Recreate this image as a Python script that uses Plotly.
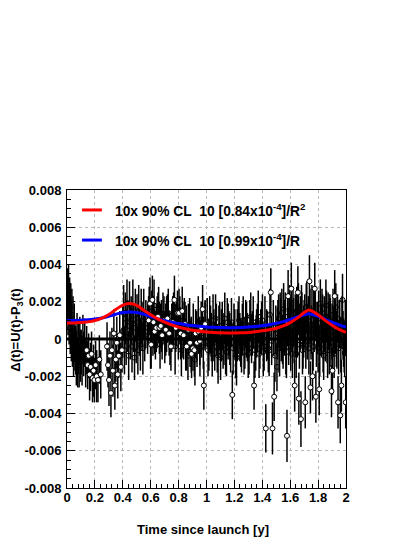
import plotly.graph_objects as go

# ---------------- data (values in units of 1e-3) ----------------
tA = [0.003,0.007,0.011,0.015,0.019,0.023,0.027,0.031,0.035,0.039,0.043,0.047,0.052,0.057]
vA = [2.3,1.6,2.6,1.2,2.0,0.6,1.7,0.3,1.3,-0.2,0.9,-0.7,0.4,-0.4]
eA = [1.5,1.4,1.4,1.5,1.3,1.4,1.3,1.5,1.4,1.3,1.4,1.3,1.5,1.3]

tB = [0.062,0.067,0.072,0.077,0.082,0.087,0.092,0.097,0.102,0.108,0.114,0.120,0.127,0.134]
vB = [-0.6,-1.1,0.2,-1.3,-0.5,-1.4,-0.1,-0.9,-0.7,-1.2,0.0,-0.8,-0.2,-1.3]
eB = [1.3,1.4,1.2,1.3,1.4,1.2,1.3,1.4,1.2,1.3,1.3,1.2,1.3,1.3]

tC = [0.141,0.148,0.155,0.162,0.169,0.176,0.183,0.190,0.197,0.205,0.213,0.222,0.232,0.242]
vC = [-0.6,-1.4,-0.9,-1.9,-1.5,-0.8,-2.1,-1.7,-2.2,-1.4,-2.0,-2.2,-1.1,-1.9]
eC = [1.3,1.3,1.2,1.4,1.3,1.2,1.3,1.4,1.2,1.3,1.4,1.2,1.3,1.3]

tD = [0.287,0.294,0.301,0.308,0.315,0.322,0.329,0.336,0.343,0.350,0.357,0.364,0.371,0.378,0.386,0.394]
vD = [-0.4,-1.4,-2.2,-0.9,-2.9,-0.6,-1.7,0.3,-2.5,-1.1,-0.2,-1.9,-0.9,0.2,-1.5,-0.6]
eD = [1.3,1.2,1.4,1.3,1.3,1.2,1.4,1.3,1.3,1.2,1.4,1.3,1.2,1.3,1.3,1.2]

tE = [0.400,0.406,0.412,0.418,0.424,0.430,0.436,0.442,0.448,0.454,0.460,0.466,0.472,0.478,
      0.484,0.490,0.496,0.502,0.508,0.514,0.520,0.526,0.532,0.538,0.544,0.550,0.557,0.565]
vE = [0.4,1.4,-0.6,1.1,0.1,1.9,0.7,-0.9,1.6,0.3,1.0,-0.4,1.7,0.6,
      -1.0,1.3,0.0,0.9,-0.6,1.5,0.4,-0.3,1.2,0.7,-0.5,1.4,0.2,0.8]
eE = [1.4,1.5,1.3,1.4,1.5,1.3,1.4,1.3,1.5,1.4,1.3,1.4,1.5,1.3,
      1.2,1.4,1.3,1.5,1.3,1.4,1.3,1.4,1.5,1.3,1.4,1.3,1.4,1.3]

tF = [0.585,0.595,0.603,0.612,0.620,0.628,0.640,0.652,0.662,0.672,0.682,0.695,0.708,0.720,
      0.732,0.745,0.758,0.770,0.780,0.792,0.803,0.815,0.826,0.836,0.846,0.858,0.870,0.882,
      0.893,0.903,0.913,0.922,0.932,0.942,0.952,0.962,0.972,0.981,0.990]
vF = [1.0,1.9,-0.3,2.1,0.9,0.4,0.6,1.2,0.6,0.7,0.2,1.0,0.5,1.1,
      0.3,-0.4,0.9,2.1,0.6,1.4,1.4,0.3,1.5,0.2,0.8,-0.4,0.5,-0.2,
      -0.8,-0.5,-0.6,0.3,-0.2,0.4,-0.1,0.6,1.6,-2.5,0.8]
eF = [1.3,1.4,1.3,1.3,1.4,1.2,1.3,1.3,1.4,1.2,1.3,1.3,1.4,1.3,
      1.2,1.3,1.4,1.3,1.3,1.2,1.3,1.4,1.3,1.3,1.2,1.3,1.4,1.3,
      1.3,1.2,1.4,1.3,1.3,1.2,1.3,1.4,1.3,1.3,1.3]

tF2 = [0.578,0.589,0.599,0.608,0.616,0.624,0.634,0.646,0.657,0.667,0.677,0.688,0.701,
       0.714,0.726,0.738,0.751,0.764,0.775,0.786,0.798,0.809,0.820,0.831,0.841,0.851]
vF2 = [0.6,1.5,-0.2,1.1,0.4,1.8,0.2,0.9,1.3,-0.3,0.7,1.2,0.1,
       0.8,1.4,0.0,0.6,1.1,-0.4,0.9,0.3,1.0,-0.6,0.5,0.9,-0.3]
eF2 = [1.4,1.3,1.4,1.5,1.3,1.4,1.3,1.4,1.5,1.3,1.4,1.3,1.4,
       1.5,1.3,1.4,1.3,1.4,1.5,1.3,1.4,1.3,1.4,1.5,1.3,1.4]

tG = [1.005,1.017,1.029,1.041,1.053,1.065,1.077,1.089,1.101,1.113,1.125,1.137,1.149,1.161,
      1.173,1.185,1.197,1.209,1.221,1.233,1.245,1.257,1.269,1.281,1.293,1.305,1.317,1.329,
      1.341,1.353,1.365,1.377,1.389,1.401,1.413,1.425,1.437,1.449,1.461,1.473,1.485,1.497]
vG = [0.9,-0.3,0.5,-0.8,0.2,1.1,-0.5,0.4,-1.0,0.7,0.0,-0.6,0.9,0.3,
      -0.4,-3.0,0.6,-0.9,0.2,1.0,-0.2,0.5,-0.7,0.8,0.1,-0.5,1.2,0.3,
      -2.5,-0.3,0.6,-0.8,0.4,1.0,-0.4,-4.8,0.2,-0.6,2.5,-4.8,-3.1,0.5]
eG = [1.3,1.4,1.3,1.2,1.4,1.3,1.3,1.4,1.2,1.3,1.4,1.3,1.3,1.2,
      1.4,1.3,1.3,1.2,1.4,1.3,1.3,1.4,1.2,1.3,1.3,1.4,1.3,1.2,
      1.3,1.4,1.3,1.3,1.2,1.4,1.3,1.3,1.3,1.4,1.3,1.4,1.3,1.3]

tG2 = [0.855,0.867,0.879,0.891,0.905,0.917,0.929,0.941,0.953,0.965,0.977,0.989,
       1.011,1.023,1.035,1.047,1.059,1.071,1.083,1.095,1.107,1.119,
       1.131,1.143,1.155,1.167,1.179,1.191,1.203,1.215,1.227,1.239,
       1.251,1.263,1.275,1.287,1.299,1.311,1.323,1.335,1.347,1.359,
       1.371,1.383,1.395,1.407,1.419,1.431,1.443,1.455,1.467,1.479,
       1.491]
vG2 = [0.4,-0.9,0.8,-0.3,0.6,-1.1,0.2,0.9,-0.5,0.3,-0.2,0.7,
       -0.6,0.8,0.1,1.0,-0.4,0.5,-0.9,0.7,0.2,-0.3,
       1.1,-0.7,0.4,0.0,0.9,-0.5,0.3,-1.0,0.6,0.1,
       -0.4,1.0,-0.2,0.5,-0.8,0.7,0.0,0.9,-0.6,0.3,
       1.2,-0.3,0.6,-0.7,0.8,0.2,-0.5,1.3,-0.1,0.6,
       -0.9]
eG2 = [1.4,1.3,1.4,1.5,1.3,1.4,1.3,1.4,1.5,1.3,1.4,1.3,
       1.4,1.5,1.3,1.4,1.3,1.4,1.5,1.3,1.4,1.3,
       1.4,1.3,1.5,1.4,1.3,1.4,1.3,1.5,1.4,1.3,
       1.4,1.3,1.4,1.5,1.3,1.4,1.3,1.4,1.5,1.3,
       1.4,1.3,1.4,1.3,1.5,1.4,1.3,1.4,1.3,1.5,
       1.4]

tH = [1.505,1.512,1.520,1.528,1.536,1.545,1.553,1.561,1.569,1.577,1.585,1.592,1.600,1.608,
      1.616,1.624,1.632,1.639,1.647,1.655,1.662,1.669,1.677,1.684,1.692,1.700,1.708,1.715,
      1.722,1.730,1.738,1.745,1.752,1.760,1.768,1.776,1.784,1.792,1.800,1.808,1.816,1.824,
      1.832,1.840,1.848,1.856,1.864,1.872,1.880,1.888,1.896,1.903,1.911,1.919,1.927,1.935,
      1.943,1.951,1.959,1.967,1.975,1.983,1.991,1.998]
vH = [-1.5,0.8,-0.4,1.2,0.1,-0.05,1.6,0.6,-0.6,-5.2,2.3,0.4,1.0,2.7,
      -0.8,0.9,-2.5,0.3,1.5,2.5,-3.2,0.6,-4.3,1.2,-0.3,0.8,-3.4,1.7,
      0.2,1.0,3.1,-2.6,0.5,-2.0,1.3,2.7,-3.1,0.7,-0.5,-2.7,1.9,0.4,
      1.1,-0.9,0.6,1.8,0.0,1.2,-0.6,0.9,-2.8,-1.7,0.4,2.3,1.7,-0.3,
      -3.4,0.8,-4.1,-2.5,2.1,-0.2,-0.75,-3.4]
eH = [1.3,1.3,1.4,1.3,1.3,1.3,1.4,1.3,1.3,1.4,1.4,1.3,1.3,1.4,
      1.3,1.3,1.4,1.3,1.3,1.4,1.4,1.3,1.5,1.3,1.3,1.3,1.4,1.3,
      1.3,1.3,1.4,1.4,1.3,1.3,1.3,1.4,1.4,1.3,1.3,1.4,1.3,1.3,
      1.3,1.3,1.3,1.4,1.3,1.3,1.3,1.3,1.4,1.3,1.3,1.4,1.3,1.3,
      1.4,1.3,1.5,1.4,1.4,1.3,1.3,1.4]

tH2 = [1.509,1.517,1.524,1.532,1.540,1.549,1.557,1.565,1.573,1.581,
       1.589,1.596,1.604,1.612,1.620,1.628,1.636,1.643,1.651,1.659,
       1.666,1.673,1.681,1.688,1.696,1.704,1.712,1.719,1.726,1.734,
       1.742,1.749,1.756,1.764,1.772,1.780,1.788,1.796,1.804,1.812,
       1.820,1.828,1.836,1.844,1.852,1.860,1.868,1.876,1.884,1.892,
       1.900,1.907,1.915,1.923,1.931,1.939,1.947,1.955,1.963,1.971,
       1.979,1.987,1.995]
vH2 = [0.3,1.1,-0.5,0.8,1.4,-0.2,0.6,1.2,-0.7,0.9,
       0.1,1.5,-0.4,0.7,1.3,0.0,1.0,-0.8,0.5,1.6,
       -0.3,0.9,1.4,-0.6,0.4,1.1,-0.1,1.7,0.6,-0.5,
       1.2,0.2,1.5,-0.4,0.8,1.3,-0.2,0.6,1.1,-0.7,
       0.5,1.4,-0.3,0.9,0.1,1.2,-0.6,0.7,1.0,-0.2,
       0.4,1.3,-0.8,0.6,0.0,1.1,-0.5,0.8,-0.3,0.9,
       0.2,-0.4,0.6]
eH2 = [1.4,1.3,1.5,1.4,1.3,1.4,1.5,1.3,1.4,1.3,
       1.5,1.4,1.3,1.4,1.5,1.3,1.4,1.3,1.5,1.4,
       1.3,1.4,1.5,1.3,1.4,1.3,1.5,1.4,1.3,1.4,
       1.5,1.3,1.4,1.3,1.5,1.4,1.3,1.4,1.5,1.3,
       1.4,1.3,1.5,1.4,1.3,1.4,1.5,1.3,1.4,1.3,
       1.5,1.4,1.3,1.4,1.5,1.3,1.4,1.3,1.5,1.4,
       1.3,1.4,1.5]

# 10x 90% CL curves (units of 1e-3)
t_curve = [0.00,0.05,0.10,0.15,0.20,0.25,0.30,0.35,0.40,0.45,0.50,0.55,0.60,0.65,0.70,0.75,
           0.80,0.85,0.90,0.95,1.00,1.05,1.10,1.15,1.20,1.25,1.30,1.35,1.40,1.45,1.50,1.55,
           1.60,1.65,1.70,1.73,1.75,1.80,1.85,1.90,1.95,2.00]
red_R2 = [0.86,0.86,0.88,0.92,0.99,1.12,1.32,1.58,1.82,1.90,1.80,1.55,1.30,1.08,0.90,0.76,
          0.64,0.55,0.47,0.42,0.38,0.35,0.33,0.32,0.32,0.33,0.35,0.39,0.44,0.50,0.58,0.70,
          0.88,1.12,1.42,1.55,1.52,1.30,1.00,0.74,0.52,0.36]
blue_R = [1.00,1.00,1.01,1.03,1.07,1.13,1.22,1.33,1.42,1.45,1.42,1.33,1.20,1.08,0.98,0.90,
          0.83,0.77,0.72,0.68,0.65,0.63,0.62,0.61,0.61,0.62,0.64,0.67,0.71,0.77,0.84,0.93,
          1.05,1.18,1.30,1.35,1.33,1.22,1.06,0.90,0.76,0.64]

y_tickvals = [8,6,4,2,0,-2,-4,-6,-8]
y_ticktext = ["0.008","0.006","0.004","0.002","0","-0.002","-0.004","-0.006","-0.008"]
x_tickvals = [0,0.2,0.4,0.6,0.8,1,1.2,1.4,1.6,1.8,2]
x_ticktext = ["0","0.2","0.4","0.6","0.8","1","1.2","1.4","1.6","1.8","2"]

legend_red = "10x 90% CL\u00a0\u00a010 [0.84x10<sup>-4</sup>]/R<sup>2</sup>"
legend_blue = "10x 90% CL\u00a0\u00a010 [0.99x10<sup>-4</sup>]/R"

# ---------------- drawing-order groups ----------------
# dense runs: bars drawn over the markers (as overlapping points do in the original)
bulk_t, bulk_v, bulk_e = [], [], []
top_t, top_v, top_e = [], [], []
for ts, vs, es, flag in [(tA, vA, eA, False), (tB, vB, eB, False), (tE, vE, eE, False),
                         (tF2, vF2, eF2, False),
                         (tG, vG, eG, True), (tG2, vG2, eG2, True),
                         (tH, vH, eH, True), (tH2, vH2, eH2, True)]:
    for t, v, e in zip(ts, vs, es):
        if flag and abs(v - 0.3) > 1.9:
            top_t.append(t); top_v.append(v); top_e.append(e)
        else:
            bulk_t.append(t); bulk_v.append(v); bulk_e.append(e)
sparse_t = tC + tD + tF
sparse_v = vC + vD + vF
sparse_e = eC + eD + eF

FONT = "Liberation Sans, Arial, Helvetica, sans-serif"
MK = dict(symbol="circle", size=5, color="white", line=dict(color="black", width=1))
BAR_W = 1.5

fig = go.Figure()
fig.add_trace(go.Scatter(x=bulk_t, y=bulk_v, mode="markers", marker=MK,
                         showlegend=False, hoverinfo="skip"))
fig.add_trace(go.Scatter(x=bulk_t, y=bulk_v, mode="markers",
                         marker=dict(size=1, color="black", opacity=0),
                         error_y=dict(type="data", array=bulk_e, visible=True, color="black",
                                      thickness=BAR_W, width=0),
                         showlegend=False, hoverinfo="skip"))
fig.add_trace(go.Scatter(x=sparse_t, y=sparse_v, mode="markers", marker=MK,
                         error_y=dict(type="data", array=sparse_e, visible=True, color="black",
                                      thickness=BAR_W, width=0),
                         showlegend=False, hoverinfo="skip"))
fig.add_trace(go.Scatter(x=top_t, y=top_v, mode="markers", marker=MK,
                         error_y=dict(type="data", array=top_e, visible=True, color="black",
                                      thickness=BAR_W, width=0),
                         showlegend=False, hoverinfo="skip"))
fig.add_trace(go.Scatter(x=t_curve, y=blue_R, mode="lines",
                         line=dict(color="#0000ff", width=3, shape="spline"), showlegend=False))
fig.add_trace(go.Scatter(x=t_curve, y=red_R2, mode="lines",
                         line=dict(color="#ff0000", width=3, shape="spline"), showlegend=False))

# zero line
fig.add_shape(type="line", xref="paper", yref="y", x0=0, x1=1, y0=0, y1=0,
              line=dict(color="black", width=3), layer="above")

# legend (manual)
fig.add_shape(type="line", xref="paper", yref="paper", x0=0.054, x1=0.125, y0=0.933, y1=0.933,
              line=dict(color="#ff0000", width=3))
fig.add_shape(type="line", xref="paper", yref="paper", x0=0.054, x1=0.125, y0=0.832, y1=0.832,
              line=dict(color="#0000ff", width=3))
fig.add_annotation(xref="paper", yref="paper", x=0.165, y=0.933, xanchor="left", yanchor="middle",
                   text=legend_red, showarrow=False,
                   font=dict(family=FONT, size=13.8, color="black", weight="bold"))
fig.add_annotation(xref="paper", yref="paper", x=0.165, y=0.832, xanchor="left", yanchor="middle",
                   text=legend_blue, showarrow=False,
                   font=dict(family=FONT, size=13.8, color="black", weight="bold"))

# axis titles
fig.add_annotation(xref="paper", yref="paper", x=0.487, y=-0.138, xanchor="center", yanchor="middle",
                   text="Time since launch [y]", showarrow=False,
                   font=dict(family=FONT, size=13, color="black", weight="bold"))
fig.add_annotation(xref="paper", yref="paper", x=-0.179, y=0.528, xanchor="center", yanchor="middle",
                   textangle=-90, text="\u0394(t)=U(t)-P<sub>3</sub>(t)", showarrow=False,
                   font=dict(family=FONT, size=13, color="black", weight="bold"))

# page body has an 8px margin: figure sized to fit the 415x537 window
fig.update_layout(
    width=407, height=529,
    margin=dict(l=59, r=69, t=182, b=49),
    paper_bgcolor="white", plot_bgcolor="white",
    font=dict(family=FONT, size=13, color="black", weight="bold"),
    showlegend=False,
)
fig.update_xaxes(range=[0, 2], tickvals=x_tickvals, ticktext=x_ticktext,
                 ticks="inside", ticklen=8, tickcolor="black", tickwidth=1,
                 showline=True, linecolor="black", linewidth=1, mirror=True,
                 showgrid=True, gridcolor="#b8b8b8", griddash="dot", gridwidth=1,
                 zeroline=False, ticklabelstandoff=-3,
                 minor=dict(dtick=0.04, tick0=0, ticks="inside", ticklen=4, tickcolor="black", showgrid=False),
                 tickfont=dict(family=FONT, size=13, color="black", weight="bold"))
fig.update_yaxes(range=[-8, 8], tickvals=y_tickvals, ticktext=y_ticktext,
                 ticks="inside", ticklen=8, tickcolor="black", tickwidth=1,
                 showline=True, linecolor="black", linewidth=1, mirror=True,
                 showgrid=True, gridcolor="#b8b8b8", griddash="dot", gridwidth=1,
                 zeroline=False, ticklabelstandoff=2,
                 minor=dict(dtick=0.5, tick0=0, ticks="inside", ticklen=4, tickcolor="black", showgrid=False),
                 tickfont=dict(family=FONT, size=13, color="black", weight="bold"))

fig.write_html("out.html")
